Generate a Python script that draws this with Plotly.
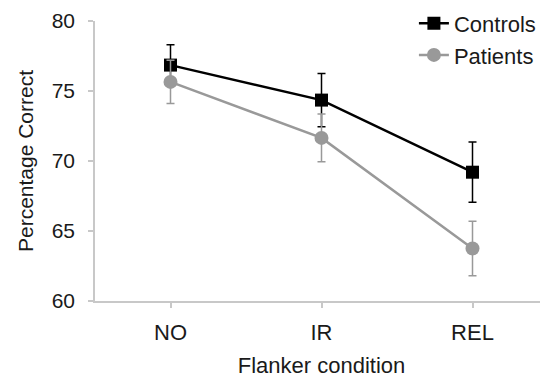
import plotly.graph_objects as go

conditions = ["NO", "IR", "REL"]
controls = [76.85, 74.35, 69.2]
controls_err = [1.45, 1.9, 2.15]
patients = [75.65, 71.65, 63.75]
patients_err = [1.55, 1.7, 1.95]
y_ticks = [60, 65, 70, 75, 80]

FONT = "Liberation Sans, Arial, sans-serif"
GRAY = "#999999"
TXT = "#1a1a1a"
AXC = "#c8c8c8"

fig = go.Figure()
fig.add_trace(go.Scatter(
    x=conditions, y=controls, name="Controls", mode="lines+markers",
    legendgroup="c",
    line=dict(color="black", width=2.5),
    marker=dict(symbol="square", size=13, color="black"),
    error_y=dict(type="data", array=controls_err, color="black", thickness=1.5, width=4),
))
fig.add_trace(go.Scatter(
    x=conditions, y=patients, name="Patients", mode="lines+markers",
    legendgroup="p",
    line=dict(color=GRAY, width=2.5),
    marker=dict(symbol="circle", size=14, color=GRAY),
    error_y=dict(type="data", array=patients_err, color=GRAY, thickness=1.5, width=4),
))

fig.update_layout(
    width=540, height=370,
    margin=dict(l=87, r=0, t=13, b=77, autoexpand=False),
    plot_bgcolor="white", paper_bgcolor="white",
    font=dict(family=FONT, size=22, color=TXT),
    showlegend=True,
    legend=dict(x=0.704, y=1.066, xanchor="left", yanchor="top",
                font=dict(size=22, family=FONT, color=TXT),
                bgcolor="rgba(0,0,0,0)", tracegroupgap=0),
    xaxis=dict(
        type="category", range=[-0.5, 2.5], automargin=False,
        showline=True, linecolor=AXC, linewidth=1.5,
        ticks="outside", tickcolor=AXC, ticklen=5, tickwidth=1.5,
        showgrid=False, zeroline=False, ticklabelstandoff=6,
        tickfont=dict(size=22, family=FONT, color=TXT),
        title=dict(text="Flanker condition", font=dict(size=22, family=FONT, color=TXT), standoff=15),
    ),
    yaxis=dict(
        range=[60, 80], tickvals=y_ticks, automargin=False,
        showline=True, linecolor=AXC, linewidth=1.5,
        ticks="outside", tickcolor=AXC, ticklen=5, tickwidth=1.5,
        showgrid=False, zeroline=False, ticklabelstandoff=9,
        tickfont=dict(size=21, family=FONT, color=TXT),
        title=dict(text="Percentage Correct", font=dict(size=21, family=FONT, color=TXT), standoff=12),
    ),
)

fig.write_html("out.html")
